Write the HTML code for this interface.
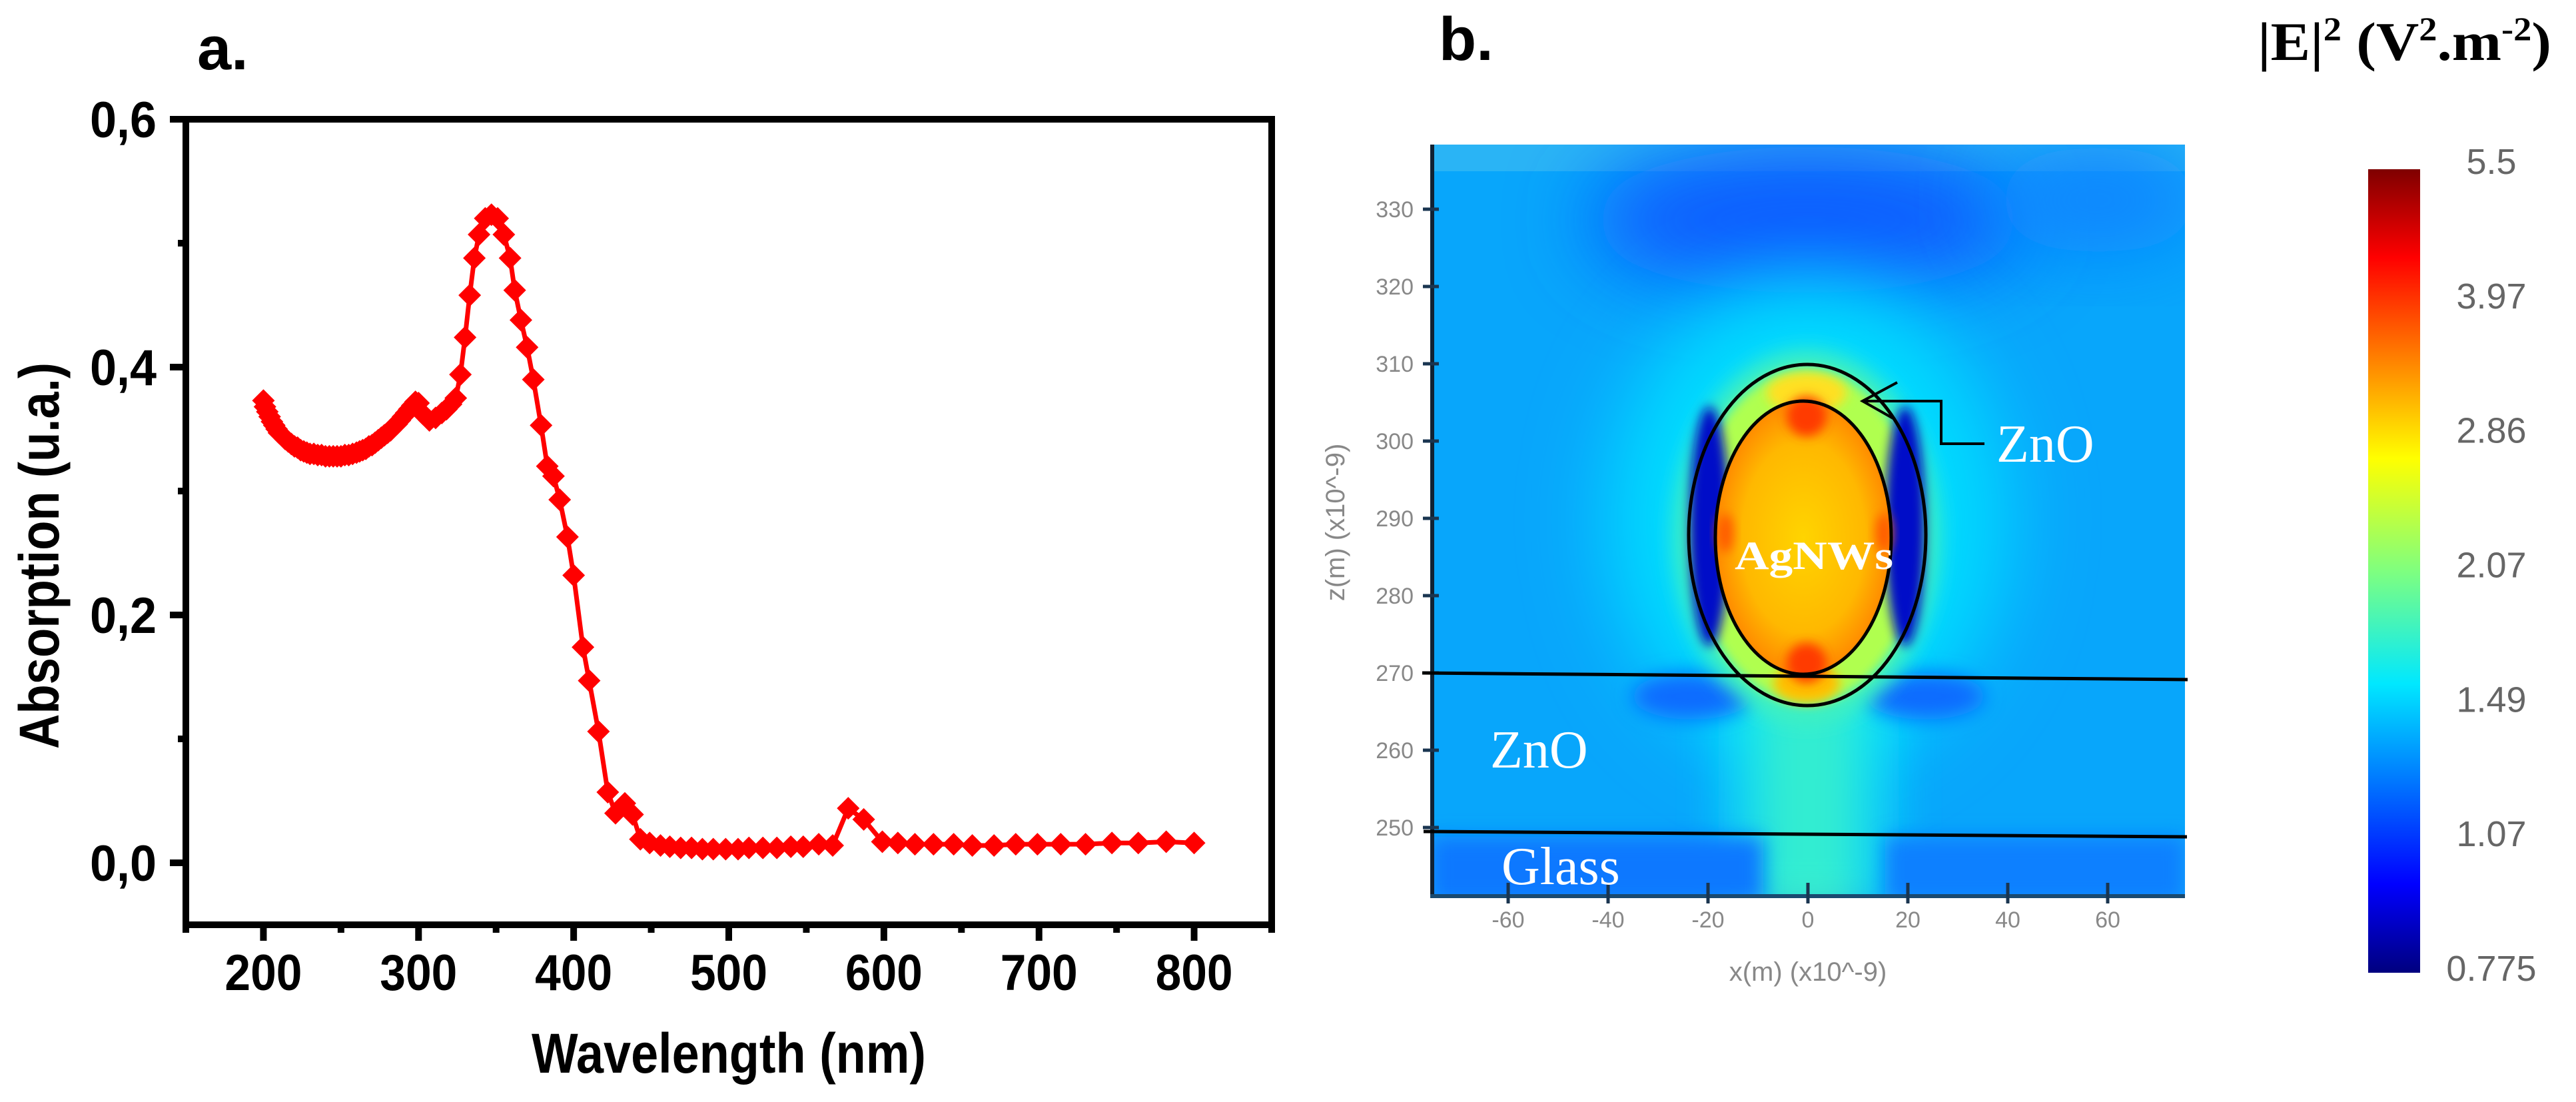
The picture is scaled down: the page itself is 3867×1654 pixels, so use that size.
<!DOCTYPE html>
<html><head><meta charset="utf-8">
<style>
html,body{margin:0;padding:0;background:#fff;}
svg{display:block;}
</style></head>
<body>
<svg id="fig" width="3867" height="1654" viewBox="0 0 3867 1654" xmlns="http://www.w3.org/2000/svg">
<defs>
  <filter id="b60" x="-50%" y="-50%" width="200%" height="200%"><feGaussianBlur stdDeviation="60"/></filter>
  <filter id="b30" x="-50%" y="-50%" width="200%" height="200%"><feGaussianBlur stdDeviation="30"/></filter>
  <filter id="b15" x="-50%" y="-50%" width="200%" height="200%"><feGaussianBlur stdDeviation="15"/></filter>
  <filter id="b8" x="-50%" y="-50%" width="200%" height="200%"><feGaussianBlur stdDeviation="8"/></filter>
  <clipPath id="hmclip"><rect x="2147" y="217" width="1133" height="1131"/></clipPath>
  <linearGradient id="jet" x1="0" y1="1" x2="0" y2="0">
    <stop offset="0" stop-color="#00007f"/>
    <stop offset="0.11" stop-color="#0000ff"/>
    <stop offset="0.36" stop-color="#00e8ff"/>
    <stop offset="0.5" stop-color="#7fff7f"/>
    <stop offset="0.64" stop-color="#ffff00"/>
    <stop offset="0.89" stop-color="#ff0000"/>
    <stop offset="1" stop-color="#7f0000"/>
  </linearGradient>
  <radialGradient id="core" cx="0.5" cy="0.5" r="0.5">
    <stop offset="0" stop-color="#ffd400"/>
    <stop offset="0.7" stop-color="#ffb800"/>
    <stop offset="1" stop-color="#ff8a00"/>
  </radialGradient>
</defs>

<!-- ================= Panel a ================= -->
<g id="panelA">
  <text x="296" y="104" font-family="Liberation Sans, sans-serif" font-weight="bold" font-size="92">a.</text>
  <g id="aTicks"></g>
  <g id="aLabels"></g>
  <g id="aSeries"></g>
  <rect x="279" y="179" width="1630" height="1209" fill="none" stroke="#000" stroke-width="10"/>
  <text x="1094" y="1610" text-anchor="middle" font-family="Liberation Sans Narrow, Liberation Sans, sans-serif" font-weight="bold" font-size="84" textLength="592" lengthAdjust="spacingAndGlyphs">Wavelength (nm)</text>
  <text transform="translate(88,834) rotate(-90)" text-anchor="middle" font-family="Liberation Sans Narrow, Liberation Sans, sans-serif" font-weight="bold" font-size="84" textLength="580" lengthAdjust="spacingAndGlyphs">Absorption (u.a.)</text>
</g>

<!-- ================= Panel b ================= -->
<g id="panelB">
  <text x="2160" y="90" font-family="Liberation Sans, sans-serif" font-weight="bold" font-size="92">b.</text>
  <text x="3389" y="90" font-family="Liberation Serif, serif" font-weight="bold" font-size="82" textLength="441" lengthAdjust="spacingAndGlyphs">|E|<tspan font-size="50" dy="-30">2</tspan><tspan dy="30"> (V</tspan><tspan font-size="50" dy="-30">2</tspan><tspan dy="30">.m</tspan><tspan font-size="50" dy="-30">-2</tspan><tspan dy="30">)</tspan></text>

  <g clip-path="url(#hmclip)">
    <rect x="2147" y="217" width="1133" height="1131" fill="#08a6fb"/>
    <rect x="2147" y="217" width="1133" height="40" fill="#2ab4f5"/>
    <ellipse cx="2714" cy="330" rx="330" ry="110" fill="#0a5cff" filter="url(#b60)"/>
    <ellipse cx="3150" cy="300" rx="160" ry="80" fill="#0a84ff" filter="url(#b60)"/>
    <ellipse cx="2714" cy="780" rx="300" ry="360" fill="#00dcff" filter="url(#b60)"/>
    <rect x="2640" y="1000" width="150" height="360" fill="#6cf59a" filter="url(#b30)"/>
    <rect x="2580" y="1000" width="270" height="360" fill="#10e8f8" filter="url(#b30)" opacity="0.6"/>
    <ellipse cx="2540" cy="1045" rx="90" ry="35" fill="#0a6cff" filter="url(#b15)"/>
    <ellipse cx="2890" cy="1045" rx="90" ry="35" fill="#0a6cff" filter="url(#b15)"/>
    <rect x="2147" y="1256" width="500" height="100" fill="#0a78ff" filter="url(#b15)"/>
    <rect x="2830" y="1256" width="450" height="100" fill="#0a80ff" filter="url(#b15)"/>
    <ellipse cx="2712" cy="805" rx="200" ry="280" fill="#40f0c0" filter="url(#b15)"/>
    <ellipse cx="2712" cy="805" rx="172" ry="250" fill="#b0ff50" filter="url(#b8)"/>
    <ellipse cx="2712" cy="590" rx="60" ry="30" fill="#ffe020" filter="url(#b8)"/>
    <ellipse cx="2712" cy="1025" rx="50" ry="30" fill="#ffc000" filter="url(#b8)"/>
    <ellipse cx="2566" cy="790" rx="30" ry="180" fill="#0010c8" filter="url(#b8)"/>
    <ellipse cx="2860" cy="790" rx="30" ry="180" fill="#0010c8" filter="url(#b8)"/>
    <ellipse cx="2707" cy="807" rx="132" ry="205" fill="url(#core)"/>
    <ellipse cx="2712" cy="625" rx="30" ry="30" fill="#ff3a00" filter="url(#b8)"/>
    <ellipse cx="2712" cy="995" rx="30" ry="30" fill="#ff3a00" filter="url(#b8)"/>
    <ellipse cx="2590" cy="800" rx="12" ry="30" fill="#ff5a00" filter="url(#b8)"/>
    <ellipse cx="2828" cy="800" rx="12" ry="30" fill="#ff5a00" filter="url(#b8)"/>
    <rect x="2147" y="217" width="6" height="1131" fill="#123"/>
    <rect x="2147" y="1342" width="1133" height="6" fill="#1a4a70"/>
  </g>
  <g id="bAxes"></g>

  <!-- annotations -->
  <line x1="2135" y1="1010" x2="3284" y2="1020" stroke="#000" stroke-width="5"/>
  <line x1="2137" y1="1248" x2="3283" y2="1256" stroke="#000" stroke-width="5"/>
  <ellipse cx="2713" cy="803" rx="178" ry="256" fill="none" stroke="#000" stroke-width="5"/>
  <ellipse cx="2707" cy="807" rx="132" ry="205" fill="none" stroke="#000" stroke-width="5"/>
  <polyline points="2979,666 2914,666 2914,602 2796,602" fill="none" stroke="#000" stroke-width="4"/>
  <polyline points="2848,574 2796,602 2842,628" fill="none" stroke="#000" stroke-width="4"/>
  <text x="2997" y="693" fill="#fff" font-family="Liberation Serif, serif" font-size="80">ZnO</text>
  <text x="2604" y="854" fill="#fff" font-family="Liberation Serif, serif" font-weight="bold" font-size="60" textLength="238" lengthAdjust="spacingAndGlyphs">AgNWs</text>
  <text x="2237" y="1152" fill="#fff" font-family="Liberation Serif, serif" font-size="80">ZnO</text>
  <text x="2254" y="1327" fill="#fff" font-family="Liberation Serif, serif" font-size="80">Glass</text>

  <!-- colorbar -->
  <rect x="3555" y="254" width="78" height="1206" fill="url(#jet)"/>
  <g id="cbLabels"></g>
</g>

<script>
// ---- Panel a data ----
const wavelengths = [200,201,202.5,204,205.5,207,208.5,210,212,214,216,218,220,222,224,226,228,230,232.5,235,237.5,240,242.5,245,247.5,250,252.5,255,257.5,260,262,264,266,268,270,272,274,276,278,280,282,284,286,288,290,292,294,296,298,300,
303,307,311,315,318,321,324,327,330,333,336,339,343,347,351,355,359,362,366,370,374,379,383,387,391,396,400,406,410,416,422,427,433,438,443,449,456,462,469,476,483,490,498,506,513,522,531,540,548,558,567,577,587,599,609,620,632,645,657,671,685,699,714,730,747,764,782,800];
const absorption = [.373,.368,.364,.360,.356,.353,.350,.347,.345,.342,.340,.338,.336,.335,.333,.332,.331,.330,.330,.329,.329,.328,.328,.328,.328,.328,.329,.329,.330,.331,.332,.333,.334,.336,.337,.339,.341,.343,.345,.347,.349,.352,.354,.357,.360,.363,.366,.369,.372,.371,
.362,.357,.359,.363,.366,.370,.375,.394,.424,.458,.488,.507,.520,.523,.520,.507,.488,.462,.438,.416,.390,.353,.320,.312,.293,.263,.232,.174,.147,.106,.057,.040,.048,.039,.019,.016,.014,.013,.012,.012,.011,.011,.011,.011,.012,.012,.012,.013,.013,.015,.014,.044,.035,.017,.016,.015,.015,.015,.014,.014,.015,.015,.015,.015,.016,.016,.017,.016];
const xMajorTicks = [200,300,400,500,600,700,800];
const xMinorTicks = [150,250,350,450,550,650,750,850];
const yMajorTicks = [0,0.2,0.4,0.6];
const yTickLabels = ["0,0","0,2","0,4","0,6"];
const yMinorTicks = [0.1,0.3,0.5];

// ---- Panel b axes / colorbar data ----
const xmTicks = [-60,-40,-20,0,20,40,60];
const zmTicks = [330,320,310,300,290,280,270,260,250];
const cbValues = ["5.5","3.97","2.86","2.07","1.49","1.07","0.775"];
const cbPositions = [0,1,2,3,4,5,6];

const NS = "http://www.w3.org/2000/svg";
function xA(v){ return 279 + (v-150)*(1630/700); }
function yA(v){ return 1295 - v*1860; }
function xB(v){ return 2714 + v*7.5; }
function zB(v){ return 1010 - (v-270)*11.6; }
function mk(tag, attrs, parent){
  const e = document.createElementNS(NS, tag);
  for (const k in attrs) e.setAttribute(k, attrs[k]);
  parent.appendChild(e);
  return e;
}

const aT = document.getElementById('aTicks');
const aL = document.getElementById('aLabels');
xMajorTicks.forEach(v=>{
  const t = mk('line',{x1:xA(v),x2:xA(v),y1:1388,y2:1412,stroke:'#000','stroke-width':10},aT);
  
  
  const l = mk('text',{x:xA(v),y:1486,'text-anchor':'middle','font-family':'Liberation Sans Narrow, Liberation Sans, sans-serif','font-weight':'bold','font-size':76,textLength:116,lengthAdjust:'spacingAndGlyphs'},aL);
  l.textContent = String(v);
  
  
});
xMinorTicks.forEach(v=>{
  const t = mk('line',{x1:xA(v),x2:xA(v),y1:1388,y2:1400,stroke:'#000','stroke-width':10},aT);
  
  
});
yMajorTicks.forEach((v,i)=>{
  const t = mk('line',{x1:255,x2:279,y1:yA(v),y2:yA(v),stroke:'#000','stroke-width':10},aT);
  
  
  const l = mk('text',{x:235,y:yA(v)+27,'text-anchor':'end','font-family':'Liberation Sans Narrow, Liberation Sans, sans-serif','font-weight':'bold','font-size':76,textLength:100,lengthAdjust:'spacingAndGlyphs'},aL);
  l.textContent = yTickLabels[i];
  
  
});
yMinorTicks.forEach(v=>{
  const t = mk('line',{x1:267,x2:279,y1:yA(v),y2:yA(v),stroke:'#000','stroke-width':10},aT);
  
  
});

const aS = document.getElementById('aSeries');
const pts = wavelengths.map((w,i)=>xA(w).toFixed(1)+','+yA(absorption[i]).toFixed(1)).join(' ');
const line = mk('polyline',{points:pts,fill:'none',stroke:'#ff0000','stroke-width':7,'stroke-linejoin':'round'},aS);


wavelengths.forEach((w,i)=>{
  const cx = xA(w), cy = yA(absorption[i]), r = 17;
  const d = mk('polygon',{points:`${cx},${cy-r} ${cx+r},${cy} ${cx},${cy+r} ${cx-r},${cy}`,fill:'#ff0000'},aS);
  
  
});

// panel b axes
const bA = document.getElementById('bAxes');
xmTicks.forEach(v=>{
  const t = mk('line',{x1:xB(v),x2:xB(v),y1:1325,y2:1356,stroke:'#1a3550','stroke-width':5},bA);
  
  
  const l = mk('text',{x:xB(v),y:1392,'text-anchor':'middle','font-family':'Liberation Sans, sans-serif','font-size':34,fill:'#888'},bA);
  l.textContent = String(v);
  
  
});
zmTicks.forEach(v=>{
  const t = mk('line',{x1:2136,x2:2160,y1:zB(v),y2:zB(v),stroke:'#1a3550','stroke-width':5},bA);
  
  
  const l = mk('text',{x:2122,y:zB(v)+12,'text-anchor':'end','font-family':'Liberation Sans, sans-serif','font-size':34,fill:'#888'},bA);
  l.textContent = String(v);
  
  
});
const xt = mk('text',{x:2714,y:1472,'text-anchor':'middle','font-family':'Liberation Sans, sans-serif','font-size':40,fill:'#888'},bA);
xt.textContent = 'x(m) (x10^-9)';


const zt = mk('text',{transform:'translate(2018,784) rotate(-90)','text-anchor':'middle','font-family':'Liberation Sans, sans-serif','font-size':40,fill:'#888'},bA);
zt.textContent = 'z(m) (x10^-9)';



const cb = document.getElementById('cbLabels');
cbValues.forEach((s,i)=>{
  const y = 243 + cbPositions[i]*((1454-243)/6) + 18;
  const l = mk('text',{x:3740,y:y,'text-anchor':'middle','font-family':'Liberation Sans, sans-serif','font-size':54,fill:'#666'},cb);
  l.textContent = s;
  
  
});
</script>
</svg>
</body></html>
